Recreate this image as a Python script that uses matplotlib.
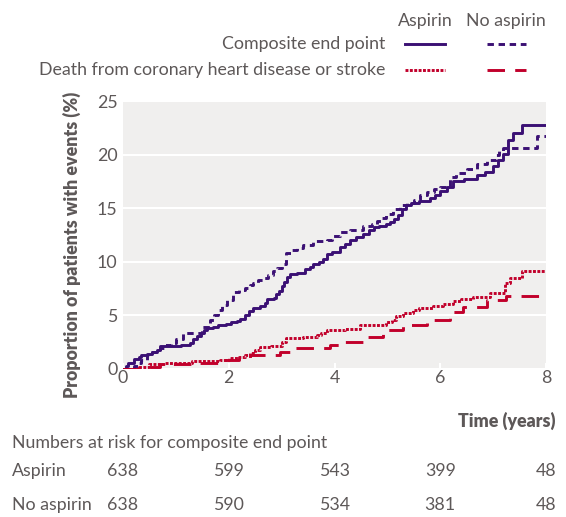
import numpy as np
import matplotlib.pyplot as plt
from matplotlib.lines import Line2D
from matplotlib.transforms import blended_transform_factory

plt.rcParams['font.family'] = ['Lato', 'DejaVu Sans']

# step curves: (time in years, cumulative %)
asp_comp_t = [0, 0.05, 0.1, 0.2, 0.3, 0.35, 0.45, 0.55, 0.65, 0.7, 0.9, 1.1, 1.26, 1.33, 1.4,
              1.47, 1.53, 1.58, 1.7, 1.8, 1.95, 2.05, 2.15, 2.22, 2.3, 2.38, 2.45, 2.6, 2.68,
              2.72, 2.85, 2.9, 2.95, 3.0, 3.05, 3.1, 3.15, 3.3, 3.45, 3.53, 3.6, 3.7, 3.78,
              3.85, 3.95, 4.1, 4.2, 4.3, 4.4, 4.54, 4.65, 4.75, 4.85, 4.98, 5.05, 5.12, 5.2,
              5.28, 5.36, 5.45, 5.6, 5.8, 5.9, 6.0, 6.12, 6.24, 6.45, 6.69, 6.85, 7.0, 7.1,
              7.19, 7.28, 7.38, 7.54, 8.0]
asp_comp_v = [0, 0.3, 0.6, 0.9, 1.1, 1.3, 1.4, 1.6, 1.8, 2.1, 2.1, 2.2, 2.4, 2.8, 3.1,
              3.4, 3.6, 3.8, 3.9, 4.1, 4.2, 4.35, 4.5, 4.7, 5.0, 5.4, 5.7, 5.9, 6.2,
              6.5, 6.6, 7.0, 7.3, 7.7, 8.1, 8.6, 8.85, 9.0, 9.3, 9.55, 9.8, 10.0, 10.3,
              10.7, 10.9, 11.4, 11.7, 12.0, 12.3, 12.6, 13.0, 13.2, 13.3, 13.5, 13.7, 14.0, 14.4,
              14.9, 15.3, 15.5, 15.7, 15.95, 16.2, 16.6, 17.0, 17.5, 17.7, 18.1, 18.4, 18.9, 19.5,
              20.1, 21.4, 22.0, 22.75, 22.75]

noasp_comp_t = [0, 0.2, 0.3, 0.35, 0.45, 0.55, 0.7, 0.8, 0.9, 1.0, 1.14, 1.39, 1.5, 1.64, 1.72,
                1.8, 1.88, 1.96, 2.08, 2.2, 2.3, 2.4, 2.46, 2.55, 2.65, 2.75, 2.84, 2.92, 3.0,
                3.09, 3.2, 3.3, 3.41, 3.6, 3.85, 3.95, 4.1, 4.3, 4.54, 4.7, 4.8, 4.9, 4.98, 5.1,
                5.24, 5.38, 5.5, 5.62, 5.74, 5.88, 6.0, 6.18, 6.3, 6.5, 6.7, 6.88, 7.05, 7.12,
                7.19, 7.82, 8.0]
noasp_comp_v = [0, 0.3, 0.6, 0.8, 1.3, 1.6, 2.0, 2.2, 2.4, 2.8, 3.35, 3.4, 3.9, 4.6, 5.0,
                5.5, 6.0, 6.4, 7.2, 7.4, 7.6, 7.8, 8.0, 8.3, 8.5, 8.8, 9.1, 9.4, 9.8,
                10.8, 11.1, 11.3, 11.55, 11.9, 12.0, 12.4, 12.8, 13.0, 13.3, 13.5, 13.8, 14.1, 14.5, 14.9,
                15.3, 15.5, 15.8, 16.2, 16.5, 16.8, 17.0, 17.9, 18.3, 18.7, 19.1, 19.5, 20.0, 20.3,
                20.6, 21.7, 21.7]

asp_death_t = [0, 0.3, 0.5, 0.8, 1.3, 1.6, 1.83, 2.0, 2.2, 2.3, 2.4, 2.5, 2.59, 2.8, 3.0, 3.09,
               3.4, 3.66, 3.75, 3.85, 4.2, 4.48, 4.98, 5.08, 5.17, 5.3, 5.49, 5.6, 5.87, 6.05,
               6.24, 6.4, 6.62, 6.94, 7.22, 7.31, 7.54, 8.0]
asp_death_v = [0, 0.2, 0.5, 0.6, 0.7, 0.75, 0.85, 1.0, 1.15, 1.3, 1.5, 1.8, 2.05, 2.1, 2.5, 2.9,
               3.0, 3.2, 3.4, 3.65, 3.7, 4.1, 4.35, 4.6, 4.9, 5.2, 5.5, 5.7, 5.9, 6.1,
               6.3, 6.5, 6.75, 7.1, 8.0, 8.45, 9.15, 9.15]

noasp_death_t = [0, 0.5, 0.7, 1.3, 1.83, 2.2, 2.4, 2.59, 2.97, 3.2, 3.91, 4.1, 4.54, 4.92, 5.3,
                 5.74, 6.18, 6.43, 6.88, 7.25, 8.0]
noasp_death_v = [0, 0.2, 0.5, 0.6, 0.8, 1.0, 1.3, 1.3, 1.55, 1.93, 2.2, 2.55, 3.0, 3.6, 4.1,
                 4.6, 5.35, 5.8, 6.4, 6.8, 6.8]

risk_times = [0, 2, 4, 6, 8]
risk_aspirin = [638, 599, 543, 399, 48]
risk_no_aspirin = [638, 590, 534, 381, 48]

purple = '#3b1074'
red = '#c1002b'
grey = '#5d5858'
fs = 12.8

fig = plt.figure(figsize=(5.66, 5.17), dpi=100)
ax = fig.add_axes([0.2173, 0.2863, 0.7474, 0.5183])
ax.set_facecolor('#f0efee')

lw = 2.1
ax.step(asp_comp_t, asp_comp_v, where='post', color=purple, lw=lw)
ax.step(noasp_comp_t, noasp_comp_v, where='post', color=purple, lw=lw, linestyle=(0, (2.2, 1.6)))
ax.step(asp_death_t, asp_death_v, where='post', color=red, lw=lw, linestyle=(0, (1.0, 0.5)))
ax.step(noasp_death_t, noasp_death_v, where='post', color=red, lw=lw, linestyle=(0, (6, 3.5)))

ax.set_xlim(0, 8)
ax.set_ylim(0, 25)
ax.set_xticks(risk_times)
ax.set_yticks([0, 5, 10, 15, 20, 25])
ax.yaxis.grid(True, color='white', lw=1.5)
ax.set_axisbelow(True)
for s in ax.spines.values():
    s.set_visible(False)
ax.tick_params(axis='x', direction='in', color='white', length=4, width=1.5,
               labelsize=fs, labelcolor=grey, pad=1)
ax.tick_params(axis='y', length=0, labelsize=fs, labelcolor=grey, pad=4)

fig.text(0.127, 0.527, 'Proportion of patients with events (%)', rotation=90,
         ha='center', va='center', fontsize=fs, fontweight='heavy', color=grey)
fig.text(555 / 566, 1 - 420.7 / 517, 'Time (years)', ha='right', va='center',
         fontsize=fs, fontweight='heavy', color=grey)

# legend drawn as a small table
def fy(py):
    return 1 - py / 517

def fx(px):
    return px / 566

fig.text(fx(425), fy(20.7), 'Aspirin', ha='center', va='center', fontsize=fs, color=grey)
fig.text(fx(506), fy(20.7), 'No aspirin', ha='center', va='center', fontsize=fs, color=grey)
fig.text(fx(385), fy(44), 'Composite end point', ha='right', va='center', fontsize=fs, color=grey)
fig.text(fx(385), fy(70), 'Death from coronary heart disease or stroke', ha='right',
         va='center', fontsize=fs, color=grey)
samples = [
    (405, 445, 44, purple, '-'),
    (487, 526, 44, purple, (0, (2.2, 1.6))),
    (405, 445, 70, red, (0, (1.0, 0.5))),
    (487, 526, 70, red, (0, (6, 3.5))),
]
for x0, x1, yy, c, ls in samples:
    fig.add_artist(Line2D([fx(x0), fx(x1)], [fy(yy), fy(yy)], color=c, lw=lw, linestyle=ls))

# numbers at risk
fig.text(fx(12), fy(442.7), 'Numbers at risk for composite end point', ha='left',
         va='center', fontsize=fs, color=grey)
fig.text(fx(12), fy(470.7), 'Aspirin', ha='left', va='center', fontsize=fs, color=grey)
fig.text(fx(12), fy(505), 'No aspirin', ha='left', va='center', fontsize=fs, color=grey)
tr = blended_transform_factory(ax.transData, fig.transFigure)
for t, a, b in zip(risk_times, risk_aspirin, risk_no_aspirin):
    ax.text(t, fy(470.7), str(a), transform=tr, ha='center', va='center',
            fontsize=fs, color=grey, clip_on=False)
    ax.text(t, fy(505), str(b), transform=tr, ha='center', va='center',
            fontsize=fs, color=grey, clip_on=False)

fig.savefig('out.png', dpi=100)
